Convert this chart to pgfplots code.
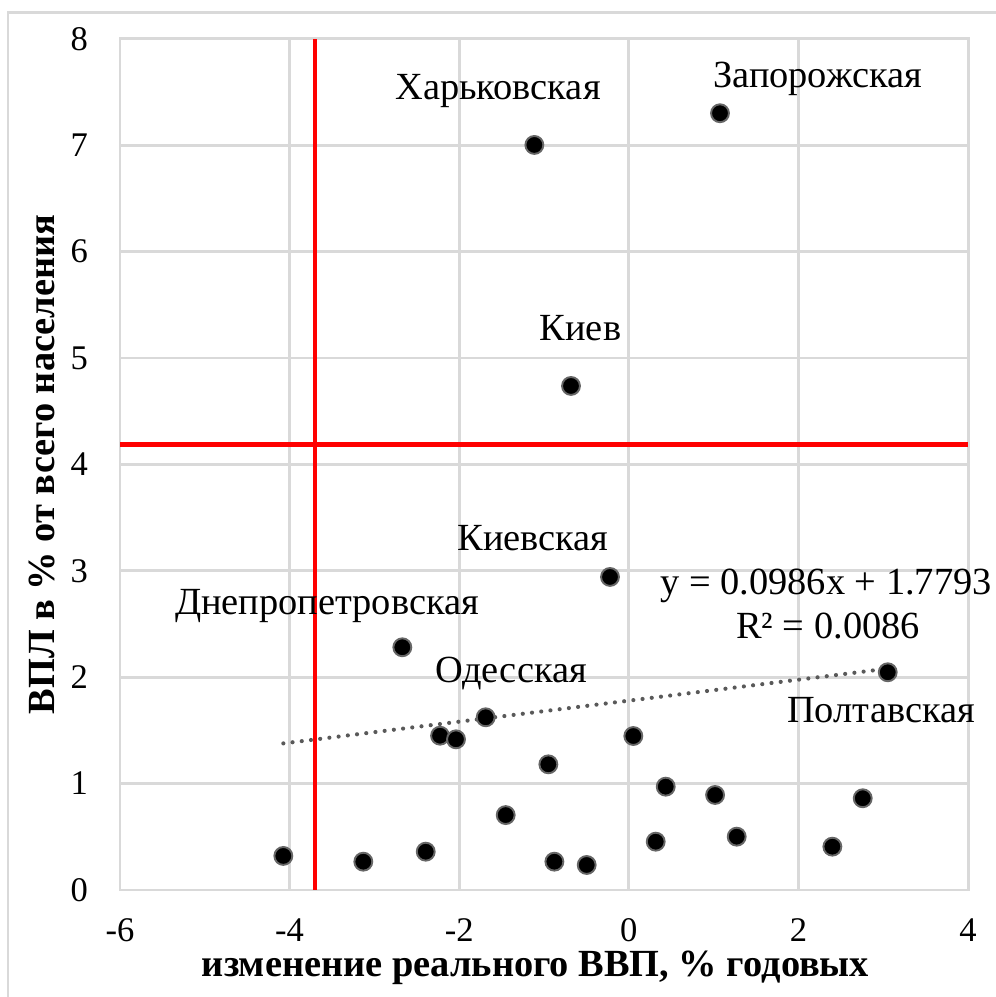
\documentclass[border=0pt]{standalone}
\usepackage{pgfplots}
\pgfplotsset{compat=1.18}
\usepackage{fontspec}
\setmainfont{Liberation Serif}
\definecolor{gridgray}{HTML}{D9D9D9}
\definecolor{trendgray}{HTML}{595959}
\begin{document}
\begin{tikzpicture}
\begin{axis}[
  scale only axis,
  width=265pt, height=266pt,
  xmin=-6, xmax=4, ymin=0, ymax=8,
  xtick={-6,-4,...,4}, ytick={0,1,...,8},
  grid=major,
  grid style={draw=gridgray, line width=0.9pt},
  axis line style={draw=gridgray, line width=0.9pt},
  tick style={draw=none},
  /pgf/number format/assume math mode=true,
  ticklabel style={font=\fontsize{10.8}{13}\selectfont},
  yticklabel style={xshift=-6.5pt},
  xticklabel style={yshift=-5.5pt},
  xlabel={изменение реального ВВП, \% годовых},
  ylabel={ВПЛ в \% от всего населения},
  label style={font=\fontsize{12}{14}\selectfont\bfseries},
  xlabel style={at={(axis description cs:0.49,-0.0917)}, anchor=center},
  ylabel style={at={(axis description cs:-0.092,0.5)}, anchor=center},
  clip=false,
]
% red threshold lines
\addplot[draw=red, line width=1.5pt] coordinates {(-3.70,0) (-3.70,8)};
\addplot[draw=red, line width=1.5pt] coordinates {(-6,4.19) (4,4.19)};
% linear trend y = 0.0986x + 1.7793
\addplot[draw=trendgray, line width=1.3pt, line cap=round, dash pattern=on 0pt off 2.9pt]
  coordinates {(-4.074,1.3776) (3.053,2.0803)};
% regions
\addplot[only marks, mark=*, mark size=2.8pt,
  mark options={fill=black, draw=black!60, line width=0.6pt}]
  coordinates {
  (-4.074,0.320) (-3.131,0.266) (-2.395,0.360) (-2.671,2.281)
  (-2.226,1.450) (-2.038,1.416) (-1.688,1.623) (-0.949,1.181)
  (-1.452,0.704) (-0.878,0.266) (-0.497,0.235) (-0.222,2.942)
  (3.053,2.046) (0.053,1.447) (0.435,0.971) (1.017,0.893)
  (2.758,0.862) (0.317,0.454) (1.272,0.501) (2.400,0.407)
  (1.075,7.300) (-1.114,7.002) (-0.682,4.737)
  };
\begin{scope}[every node/.style={anchor=base, inner sep=0pt, font=\fontsize{12}{14}\selectfont}]
\node at (axis cs:-1.542,7.425) {Харьковская};
\node at (axis cs:2.225,7.538) {Запорожская};
\node at (axis cs:-0.57,5.163) {Киев};
\node at (axis cs:-1.13,3.189) {Киевская};
\node at (axis cs:-3.559,2.585) {Днепропетровская};
\node at (axis cs:-1.389,1.946) {Одесская};
\node at (axis cs:2.974,1.570) {Полтавская};
\node at (axis cs:2.325,2.773) {y = 0.0986x + 1.7793};
\node at (axis cs:2.349,2.368) {R² = 0.0086};
\end{scope}
\end{axis}
\draw[gridgray, line width=0.9pt] (-35pt,-40pt) -- (-35pt,274.06pt) -- (280pt,274.06pt);
\pgfresetboundingbox
\useasboundingbox (-37.5pt,-33.44pt) rectangle (273.44pt,278.1pt);
\end{tikzpicture}
\end{document}
